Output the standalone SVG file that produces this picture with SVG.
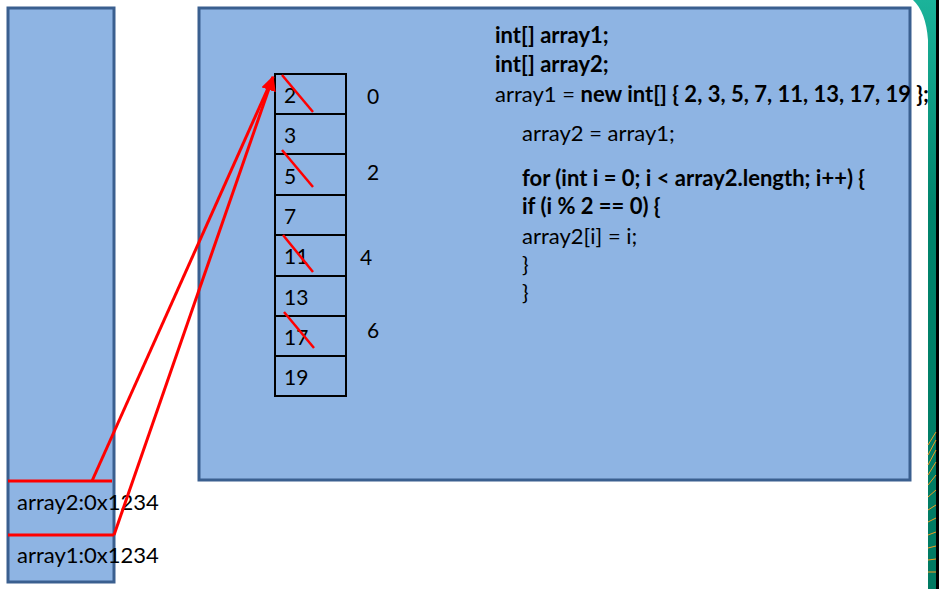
<svg xmlns="http://www.w3.org/2000/svg" width="939" height="589" viewBox="0 0 939 589">
<defs>
<style>
.box{fill:#8EB4E3;stroke:#3A5F8F;stroke-width:3}
.cell{fill:none;stroke:#000;stroke-width:2}
.t{font-family:Lato,"Open Sans","Liberation Sans",sans-serif;font-size:22px;fill:#000}
.n{font-size:21px}
.b{font-weight:bold}
.red{stroke:#FF0000;stroke-width:3;fill:none}
.x{stroke:#FF0000;stroke-width:2.5}
</style>
<linearGradient id="g" x1="0" y1="0" x2="0" y2="1">
<stop offset="0" stop-color="#1BB39A"/>
<stop offset="0.35" stop-color="#00846C"/>
<stop offset="1" stop-color="#007A62"/>
</linearGradient>
<marker id="ah" viewBox="0 0 10 10" refX="9" refY="5" markerWidth="5" markerHeight="5" orient="auto" markerUnits="strokeWidth">
<path d="M0,0 L10,5 L0,10 z" fill="#FF0000"/>
</marker>
</defs>
<rect width="939" height="589" fill="#FFFFFF"/>
<g id="side-band">
<path d="M913,0 L939,0 L939,589 L928,589 L928,40 Q926,12 913,0 z" fill="url(#g)"/>
<rect x="936" y="0" width="3" height="589" fill="#000"/>
<g stroke="#F59A1E" stroke-width="1">
<path d="M928,445 L936,432 M928,455 L936,440 M928,465 L936,450 M928,475 L936,462 M928,485 L936,475 M928,497 L936,490 M928,510 L936,505 M928,522 L936,518 M928,535 L936,532 M928,548 L936,546 M928,560 L936,559 M928,572 L936,572"/>
</g>
</g>
<g id="stack">
<rect class="box" x="8" y="8" width="106" height="574"/>
<text class="t" x="17" y="510">array2:0x1234</text>
<text class="t" x="17" y="563">array1:0x1234</text>
</g>
<g id="heap">
<rect class="box" x="199" y="8" width="711" height="472"/>
</g>
<g id="array">
<rect class="cell" x="275" y="74" width="71" height="322"/>
<path class="cell" d="M275,114H346M275,154H346M275,195H346M275,235H346M275,276H346M275,316H346M275,356H346"/>
<g class="t n">
<text x="284" y="103">2</text>
<text x="284" y="143">3</text>
<text x="284" y="184">5</text>
<text x="284" y="224">7</text>
<text x="284" y="264">11</text>
<text x="284" y="305">13</text>
<text x="284" y="345">17</text>
<text x="284" y="385">19</text>
<text x="367" y="104">0</text>
<text x="367" y="180">2</text>
<text x="360" y="265">4</text>
<text x="367" y="338">6</text>
</g>
<g class="x">
<line x1="282" y1="75" x2="313" y2="112"/>
<line x1="282" y1="150" x2="313" y2="187"/>
<line x1="283" y1="235" x2="313" y2="272"/>
<line x1="284" y1="312" x2="314" y2="348"/>
</g>
</g>
<g id="code" class="t">
<text class="b" x="495" y="43">int[] array1;</text>
<text class="b" x="495" y="72">int[] array2;</text>
<text x="495" y="102">array1 = <tspan class="b">new int[] { 2, 3, 5, 7, 11, 13, 17, 19 };</tspan></text>
<text x="522" y="141">array2 = array1;</text>
<text class="b" x="522" y="186">for (int i = 0; i &lt; array2.length; i++) {</text>
<text class="b" x="522" y="214">if (i % 2 == 0) {</text>
<text x="522" y="244">array2[i] = i;</text>
<text x="522" y="272">}</text>
<text x="522" y="300">}</text>
</g>
<g id="connectors">
<line class="red" x1="8" y1="481" x2="112" y2="481"/>
<line class="red" x1="8" y1="535" x2="114" y2="535"/>
<line class="red" x1="92" y1="481" x2="273" y2="77"/>
<line class="red" x1="114" y1="535" x2="273" y2="77" marker-end="url(#ah)"/>
</g>
</svg>
